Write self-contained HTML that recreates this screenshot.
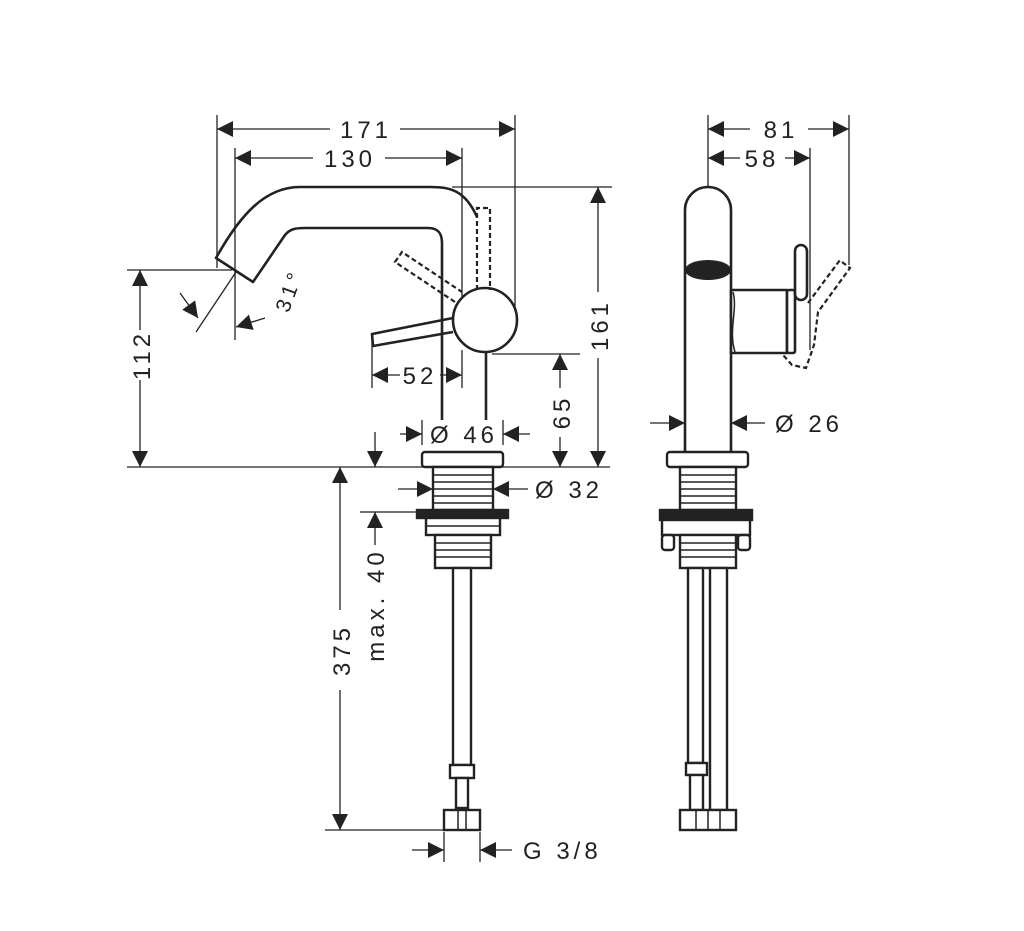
<!DOCTYPE html>
<html><head><meta charset="utf-8"><style>
html,body{margin:0;padding:0;background:#fff}
svg{display:block}
text{font-family:"Liberation Sans",sans-serif;font-size:24px;fill:#222;letter-spacing:4px}
</style></head><body>
<svg width="1024" height="931" viewBox="0 0 1024 931" xmlns="http://www.w3.org/2000/svg">
<defs>
<marker id="a" viewBox="0 0 10 10" refX="10" refY="5" markerWidth="16" markerHeight="16" markerUnits="userSpaceOnUse" orient="auto"><path d="M0,0 L10,5 L0,10 z" fill="#222"/></marker>
</defs>
<g stroke="#222" fill="none" stroke-width="1.3">
<line x1="217" y1="115" x2="217" y2="268"/>
<line x1="515" y1="115" x2="515" y2="318"/>
<line x1="235" y1="148" x2="235" y2="340"/>
<line x1="462" y1="148" x2="462" y2="300"/>
<line x1="452" y1="187" x2="612" y2="187"/>
<line x1="127" y1="270" x2="232" y2="270"/>
<line x1="127" y1="467" x2="610" y2="467"/>
<line x1="492" y1="354" x2="580" y2="354"/>
<line x1="372" y1="335" x2="372" y2="388"/>
<line x1="462" y1="350" x2="462" y2="388"/>
<line x1="422" y1="420" x2="422" y2="445"/>
<line x1="503" y1="420" x2="503" y2="445"/>
<line x1="360" y1="512" x2="418" y2="512"/>
<line x1="325" y1="830" x2="444" y2="830"/>
<line x1="444" y1="832" x2="444" y2="862"/>
<line x1="480" y1="832" x2="480" y2="862"/>
<line x1="330" y1="129" x2="217" y2="129" marker-end="url(#a)"/>
<line x1="400" y1="129" x2="515" y2="129" marker-end="url(#a)"/>
<line x1="313" y1="158" x2="235" y2="158" marker-end="url(#a)"/>
<line x1="385" y1="158" x2="462" y2="158" marker-end="url(#a)"/>
<line x1="140" y1="330" x2="140" y2="270" marker-end="url(#a)"/>
<line x1="140" y1="380" x2="140" y2="467" marker-end="url(#a)"/>
<line x1="598" y1="292" x2="598" y2="187" marker-end="url(#a)"/>
<line x1="598" y1="358" x2="598" y2="467" marker-end="url(#a)"/>
<line x1="560" y1="388" x2="560" y2="354" marker-end="url(#a)"/>
<line x1="560" y1="437" x2="560" y2="467" marker-end="url(#a)"/>
<line x1="400" y1="375" x2="372" y2="375" marker-end="url(#a)"/>
<line x1="440" y1="375" x2="462" y2="375" marker-end="url(#a)"/>
<line x1="400" y1="434" x2="422" y2="434" marker-end="url(#a)"/>
<line x1="530" y1="434" x2="503" y2="434" marker-end="url(#a)"/>
<line x1="375" y1="432" x2="375" y2="467" marker-end="url(#a)"/>
<line x1="398" y1="489" x2="433" y2="489" marker-end="url(#a)"/>
<line x1="528" y1="489" x2="493" y2="489" marker-end="url(#a)"/>
<line x1="375" y1="545" x2="375" y2="512" marker-end="url(#a)"/>
<line x1="340" y1="610" x2="340" y2="467" marker-end="url(#a)"/>
<line x1="340" y1="690" x2="340" y2="830" marker-end="url(#a)"/>
<line x1="412" y1="850" x2="444" y2="850" marker-end="url(#a)"/>
<line x1="512" y1="850" x2="480" y2="850" marker-end="url(#a)"/>
<line x1="236" y1="272" x2="196" y2="332"/>
<line x1="180" y1="293" x2="198" y2="318" marker-end="url(#a)"/>
<line x1="265" y1="318" x2="236" y2="327" marker-end="url(#a)"/>
</g>
<g stroke="#222" fill="none" stroke-width="2.6" stroke-linejoin="round">
<path d="M477,217 C465,190 450,187 430,187 L300,187 C265,187 240,215 216,258 L253,282 L285,235 C290,229 295,228 305,228 L428,228 C438,228 442,233 442,243 L442,420"/>
<line x1="486" y1="350" x2="486" y2="420"/>
<circle cx="485" cy="320" r="32" fill="#fff"/>
<path d="M453,318 L372,334 L373,346 L453,332"/>
</g>
<g stroke="#222" fill="none" stroke-width="2.2" stroke-dasharray="5,3">
<path d="M477,290 L477,208 L490,208 L490,290"/>
<path d="M455,302 L395,262 L402,252 L462,292"/>
</g>
<g stroke="#222" stroke-width="2.4" fill="#fff">
<rect x="422" y="452" width="81" height="15" rx="3"/>
<rect x="433" y="467" width="60" height="43"/>
<rect x="417" y="510" width="91" height="8" fill="#222"/>
<rect x="426" y="518" width="74" height="17"/>
<rect x="435" y="535" width="56" height="33"/>
<rect x="453" y="568" width="18" height="197"/>
<rect x="450" y="765" width="24" height="13"/>
<rect x="456" y="778" width="12" height="30"/>
<rect x="444" y="810" width="36" height="20"/>
</g>
<g stroke="#222" stroke-width="1.5">
<line x1="433" y1="475" x2="493" y2="475"/><line x1="433" y1="482" x2="493" y2="482"/><line x1="433" y1="489" x2="493" y2="489"/><line x1="433" y1="496" x2="493" y2="496"/><line x1="433" y1="503" x2="493" y2="503"/>
<line x1="426" y1="526" x2="500" y2="526"/>
<line x1="435" y1="543" x2="491" y2="543"/><line x1="435" y1="550" x2="491" y2="550"/><line x1="435" y1="557" x2="491" y2="557"/>
<line x1="458" y1="810" x2="458" y2="830"/><line x1="466" y1="810" x2="466" y2="830"/>
</g>
<g stroke="#222" fill="none" stroke-width="1.3">
<line x1="708" y1="115" x2="708" y2="187"/>
<line x1="849" y1="115" x2="849" y2="265"/>
<line x1="810" y1="148" x2="810" y2="350"/>
<line x1="750" y1="129" x2="708" y2="129" marker-end="url(#a)"/>
<line x1="808" y1="129" x2="849" y2="129" marker-end="url(#a)"/>
<line x1="740" y1="158" x2="708" y2="158" marker-end="url(#a)"/>
<line x1="785" y1="158" x2="810" y2="158" marker-end="url(#a)"/>
<line x1="650" y1="423" x2="685" y2="423" marker-end="url(#a)"/>
<line x1="765" y1="423" x2="731" y2="423" marker-end="url(#a)"/>
</g>
<path d="M842,262 L850,268 L818,312 L814,345 L806,368 L792,365 L783,355 M808,303 L840,260" stroke="#222" stroke-width="2.2" fill="none" stroke-dasharray="5,3"/>
<g stroke="#222" fill="#fff" stroke-width="2.6" stroke-linejoin="round">
<path d="M685,452 L685,210 A23,23 0 0 1 731,210 L731,452"/>
<rect x="731" y="290" width="56" height="63"/>
<rect x="787" y="290" width="8" height="63" rx="2"/>
<rect x="795" y="245" width="12" height="55" rx="6"/>
</g>
<ellipse cx="708" cy="270" rx="23" ry="10" fill="#222"/>
<path d="M733,292 C738,310 728,330 735,352" stroke="#222" stroke-width="1.5" fill="none"/>
<g stroke="#222" stroke-width="2.4" fill="#fff">
<rect x="667" y="452" width="81" height="15" rx="3"/>
<rect x="680" y="467" width="56" height="43"/>
<rect x="660" y="510" width="92" height="10" fill="#222"/>
<rect x="662" y="520" width="88" height="15"/>
<rect x="662" y="535" width="12" height="15" rx="3"/>
<rect x="738" y="535" width="12" height="15" rx="3"/>
<rect x="680" y="535" width="56" height="33"/>
<rect x="688" y="568" width="15" height="195"/>
<rect x="710" y="568" width="17" height="242"/>
<rect x="686" y="763" width="21" height="12"/>
<rect x="690" y="775" width="13" height="35"/>
<rect x="680" y="810" width="56" height="20"/>
</g>
<g stroke="#222" stroke-width="1.5">
<line x1="680" y1="475" x2="736" y2="475"/><line x1="680" y1="482" x2="736" y2="482"/><line x1="680" y1="489" x2="736" y2="489"/><line x1="680" y1="496" x2="736" y2="496"/><line x1="680" y1="503" x2="736" y2="503"/>
<line x1="680" y1="543" x2="736" y2="543"/><line x1="680" y1="550" x2="736" y2="550"/><line x1="680" y1="557" x2="736" y2="557"/>
<line x1="696" y1="810" x2="696" y2="830"/><line x1="708" y1="810" x2="708" y2="830"/><line x1="720" y1="810" x2="720" y2="830"/>
</g>
<text x="366" y="138" text-anchor="middle">171</text>
<text x="350" y="167" text-anchor="middle">130</text>
<text x="420" y="384" text-anchor="middle">52</text>
<text x="464" y="443" text-anchor="middle">Ø 46</text>
<text x="535" y="498">Ø 32</text>
<text x="523" y="859">G 3/8</text>
<text x="781" y="138" text-anchor="middle">81</text>
<text x="762" y="167" text-anchor="middle">58</text>
<text x="775" y="432">Ø 26</text>
<text transform="translate(150,355) rotate(-90)" text-anchor="middle">112</text>
<text transform="translate(608,325) rotate(-90)" text-anchor="middle">161</text>
<text transform="translate(570,412) rotate(-90)" text-anchor="middle">65</text>
<text transform="translate(350,650) rotate(-90)" text-anchor="middle">375</text>
<text transform="translate(384,605) rotate(-90)" text-anchor="middle">max. 40</text>
<text transform="translate(296,293) rotate(-70)" text-anchor="middle" style="font-size:21px">31°</text>
</svg>
</body></html>
